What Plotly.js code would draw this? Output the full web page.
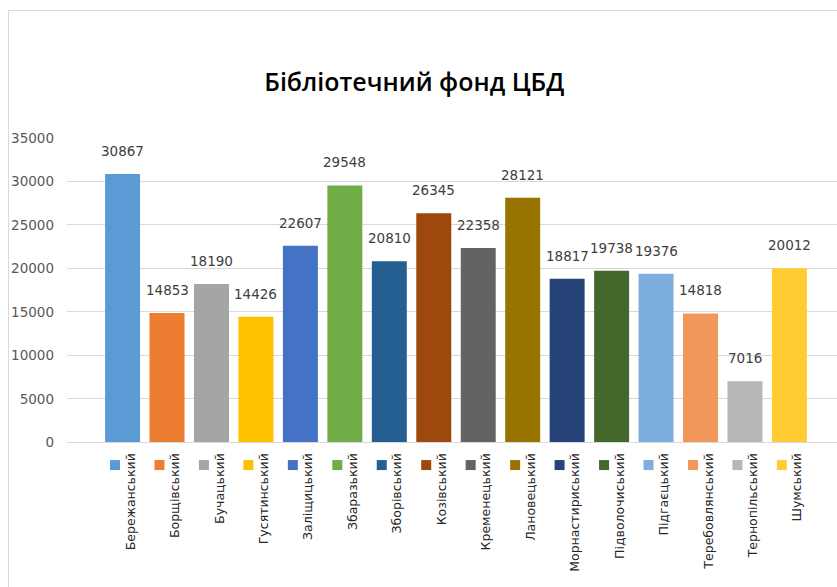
<!DOCTYPE html>
<html>
<head>
<meta charset="utf-8">
<script src="https://cdn.plot.ly/plotly-3.0.1.min.js"></script>
<style>
  html, body { margin: 0; padding: 0; background: #fff; }
  #wrap { position: relative; width: 837px; height: 587px; overflow: hidden; }
  #chart { position: absolute; left: 0; top: 0; width: 837px; height: 587px; }
  #frame { position: absolute; left: 8px; top: 10px; width: 900px; height: 700px;
           border: 1px solid #d9d9d9; pointer-events: none; }
</style>
</head>
<body>
<div id="wrap">
  <div id="chart"></div>
  <div id="frame"></div>
</div>
<script>
const districts = ["Бережанський", "Борщівський", "Бучацький", "Гусятинський", "Заліщицький",
  "Збаразький", "Зборівський", "Козівський", "Кременецький", "Лановецький",
  "Морнастириський", "Підволочиський", "Підгаєцький", "Теребовлянський", "Тернопільський", "Шумський"];
const fundValues = [30867, 14853, 18190, 14426, 22607, 29548, 20810, 26345, 22358, 28121,
  18817, 19738, 19376, 14818, 7016, 20012];
const barColors = ["#5B9BD5", "#ED7D31", "#A5A5A5", "#FFC000", "#4472C4", "#70AD47", "#255E91",
  "#9E480E", "#636363", "#997300", "#264478", "#43682B", "#7CAFDD", "#F1975A", "#B7B7B7", "#FFCD33"];
const yTicks = [0, 5000, 10000, 15000, 20000, 25000, 30000, 35000];
const yTickLabels = ["0", "5000", "10000", "15000", "20000", "25000", "30000", "35000"];

const idx = districts.map((d, i) => i);
const keyOffset = 0.17;

const bars = {
  type: 'bar', x: idx, y: fundValues, width: 0.787,
  marker: { color: barColors, line: { width: 0 } },
  hoverinfo: 'skip', showlegend: false
};
const keys = {
  type: 'scatter', mode: 'markers', xaxis: 'x', yaxis: 'y2',
  x: idx.map(i => i - keyOffset), y: idx.map(() => 0.5),
  marker: { symbol: 'square', size: 10, color: barColors },
  cliponaxis: false, hoverinfo: 'skip', showlegend: false
};

const annotations = fundValues.map((v, i) => ({
  x: i, y: v, xref: 'x', yref: 'y', text: String(v), showarrow: false,
  yanchor: 'bottom', yshift: 13,
  font: { family: 'DejaVu Sans', size: 13.5, color: '#404040' }
}));

const layout = {
  width: 837, height: 587,
  margin: { l: 67, r: 0, t: 137.5, b: 10 },
  paper_bgcolor: 'rgba(0,0,0,0)', plot_bgcolor: 'rgba(0,0,0,0)',
  title: {
    text: 'Бібліотечний фонд ЦБД',
    font: { family: 'Open Sans', size: 25, weight: 600, color: '#000' },
    x: 0.495, xanchor: 'center', y: 0.86, yanchor: 'middle'
  },
  xaxis: {
    range: [-1.25, 16.07], tickvals: idx, ticktext: districts, tickangle: -90,
    ticks: '', showgrid: false, zeroline: false, showline: true, linecolor: '#d9d9d9', linewidth: 1,
    tickfont: { family: 'DejaVu Sans', size: 12.5, color: '#262626' },
    ticklabelshift: 8, ticklabelstandoff: 5, fixedrange: true
  },
  yaxis: {
    domain: [0.307, 1], range: [0, 35000], tickvals: yTicks, ticktext: yTickLabels,
    showgrid: true, gridcolor: '#d9d9d9', gridwidth: 1, zeroline: false, showline: false,
    ticks: '', tickfont: { family: 'DejaVu Sans', size: 13.5, color: '#595959' },
    ticklabelstandoff: 12, fixedrange: true
  },
  yaxis2: {
    domain: [0.24, 0.27], range: [0, 1], visible: false, anchor: 'x', fixedrange: true
  },
  annotations: annotations
};

Plotly.newPlot('chart', [bars, keys], layout, { staticPlot: true, displayModeBar: false });
</script>
</body>
</html>
